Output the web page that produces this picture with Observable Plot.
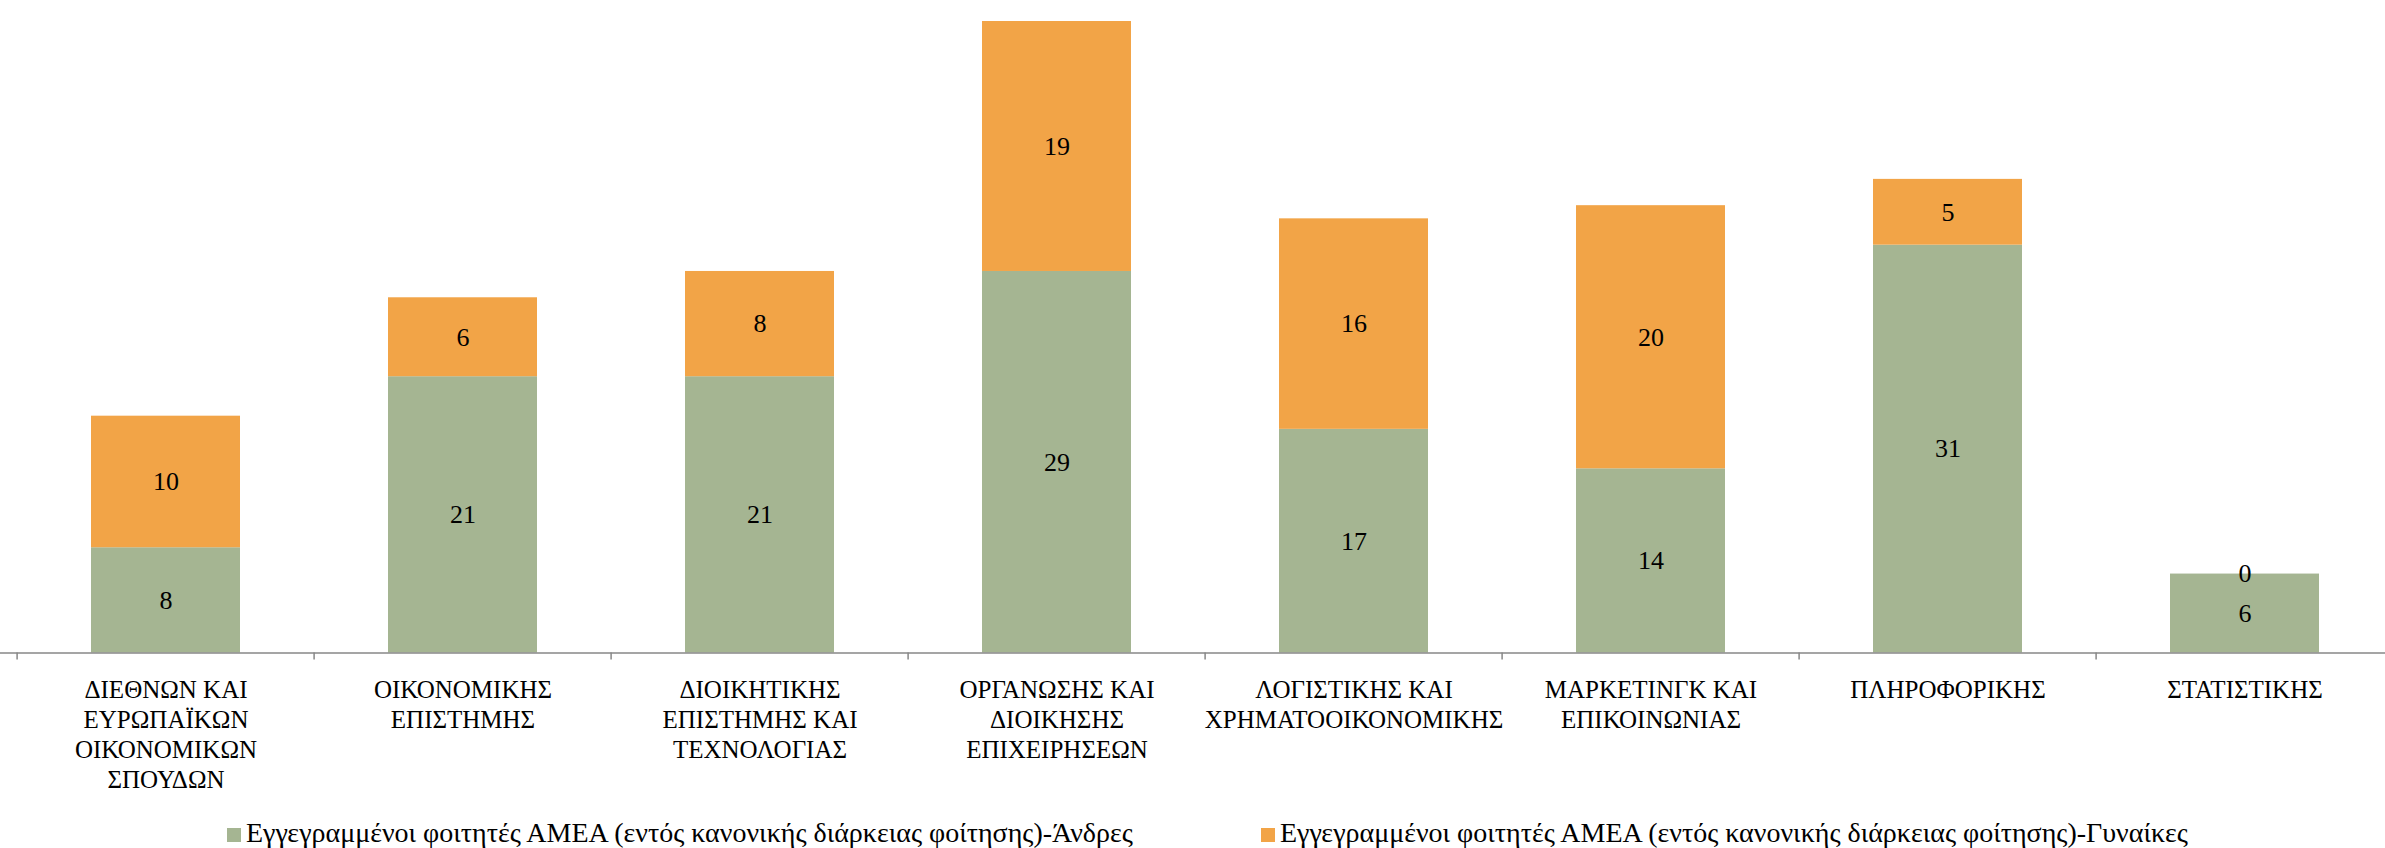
<!DOCTYPE html>
<html>
<head>
<meta charset="utf-8">
<script src="https://cdn.jsdelivr.net/npm/d3@7"></script>
<script src="https://cdn.jsdelivr.net/npm/@observablehq/plot@0.6"></script>
<style>
  html, body { margin: 0; padding: 0; background: #fff; }
  #chart { width: 2385px; }
  #chart svg { display: block; }
  .legend { position: relative; height: 30px; font-family: "Liberation Serif", serif; font-size: 28px; line-height: 30px; color: #000; white-space: nowrap; }
  .legend .item { position: absolute; top: 0; display: flex; align-items: center; }
  .legend .sw { width: 14px; height: 14px; margin-right: 5px; margin-top: 3px; }
</style>
</head>
<body>
<div id="chart"></div>
<script>
const categories = [
  "ΔΙΕΘΝΩΝ ΚΑΙ ΕΥΡΩΠΑΪΚΩΝ ΟΙΚΟΝΟΜΙΚΩΝ ΣΠΟΥΔΩΝ",
  "ΟΙΚΟΝΟΜΙΚΗΣ ΕΠΙΣΤΗΜΗΣ",
  "ΔΙΟΙΚΗΤΙΚΗΣ ΕΠΙΣΤΗΜΗΣ ΚΑΙ ΤΕΧΝΟΛΟΓΙΑΣ",
  "ΟΡΓΑΝΩΣΗΣ ΚΑΙ ΔΙΟΙΚΗΣΗΣ ΕΠΙΧΕΙΡΗΣΕΩΝ",
  "ΛΟΓΙΣΤΙΚΗΣ ΚΑΙ ΧΡΗΜΑΤΟΟΙΚΟΝΟΜΙΚΗΣ",
  "ΜΑΡΚΕΤΙΝΓΚ ΚΑΙ ΕΠΙΚΟΙΝΩΝΙΑΣ",
  "ΠΛΗΡΟΦΟΡΙΚΗΣ",
  "ΣΤΑΤΙΣΤΙΚΗΣ"
];
const tickLabels = [
  "ΔΙΕΘΝΩΝ ΚΑΙ\nΕΥΡΩΠΑΪΚΩΝ\nΟΙΚΟΝΟΜΙΚΩΝ\nΣΠΟΥΔΩΝ",
  "ΟΙΚΟΝΟΜΙΚΗΣ\nΕΠΙΣΤΗΜΗΣ",
  "ΔΙΟΙΚΗΤΙΚΗΣ\nΕΠΙΣΤΗΜΗΣ ΚΑΙ\nΤΕΧΝΟΛΟΓΙΑΣ",
  "ΟΡΓΑΝΩΣΗΣ ΚΑΙ\nΔΙΟΙΚΗΣΗΣ\nΕΠΙΧΕΙΡΗΣΕΩΝ",
  "ΛΟΓΙΣΤΙΚΗΣ ΚΑΙ\nΧΡΗΜΑΤΟΟΙΚΟΝΟΜΙΚΗΣ",
  "ΜΑΡΚΕΤΙΝΓΚ ΚΑΙ\nΕΠΙΚΟΙΝΩΝΙΑΣ",
  "ΠΛΗΡΟΦΟΡΙΚΗΣ",
  "ΣΤΑΤΙΣΤΙΚΗΣ"
];
const seriesNames = [
  "Εγγεγραμμένοι φοιτητές ΑΜΕΑ (εντός κανονικής διάρκειας φοίτησης)-Άνδρες",
  "Εγγεγραμμένοι φοιτητές ΑΜΕΑ (εντός κανονικής διάρκειας φοίτησης)-Γυναίκες"
];
const men   = [8, 21, 21, 29, 17, 14, 31, 6];
const women = [10, 6, 8, 19, 16, 20, 5, 0];
const colors = ["#A5B592", "#F2A447"];

const rows = [];
categories.forEach((c, i) => {
  rows.push({category: c, series: seriesNames[0], value: men[i]});
  rows.push({category: c, series: seriesNames[1], value: women[i]});
});
const labelOf = new Map(categories.map((c, i) => [c, tickLabels[i]]));

const W = 2385, H = 818;
const xRange = [13.6, 2396];
const band = (xRange[1] - xRange[0]) / categories.length;

const chart = Plot.plot({
  width: W,
  height: H,
  marginLeft: 0, marginRight: 0, marginTop: 0, marginBottom: 0,
  style: {fontFamily: "'Liberation Serif', serif", background: "#fff", color: "#000"},
  x: {domain: categories, range: xRange, paddingInner: 0.5, paddingOuter: 0.25, align: 0.5, label: null},
  y: {domain: [0, 48], range: [652.5, 21], axis: null},
  color: {domain: seriesNames, range: colors},
  marks: [
    Plot.barY(rows, Plot.stackY({x: "category", y: "value", fill: "series", order: seriesNames})),
    Plot.text(rows, Plot.stackY({x: "category", y: "value", z: "series", order: seriesNames, text: d => String(d.value), fontSize: 26, fill: "#000"})),
    Plot.ruleY([0], {stroke: "#878787", strokeWidth: 1.5}),
    Plot.axisX({tickSize: 7, text: null, label: null, stroke: "#878787", strokeWidth: 1.5, dx: -band / 2, anchor: "bottom", y: 0}),
    Plot.axisX({tickSize: 0, tickPadding: 24, fontSize: 25, lineHeight: 1.2, label: null, tickFormat: d => labelOf.get(d), anchor: "bottom", y: 0, fill: "#000", lineAnchor: "top"})
  ]
});
document.getElementById("chart").appendChild(chart);

const legend = document.createElement("div");
legend.className = "legend";
const lefts = [227, 1261];
seriesNames.forEach((s, i) => {
  const item = document.createElement("div");
  item.className = "item";
  item.style.left = lefts[i] + "px";
  const sw = document.createElement("span");
  sw.className = "sw";
  sw.style.background = colors[i];
  const t = document.createElement("span");
  t.textContent = s;
  item.appendChild(sw);
  item.appendChild(t);
  legend.appendChild(item);
});
document.getElementById("chart").appendChild(legend);
</script>
</body>
</html>
